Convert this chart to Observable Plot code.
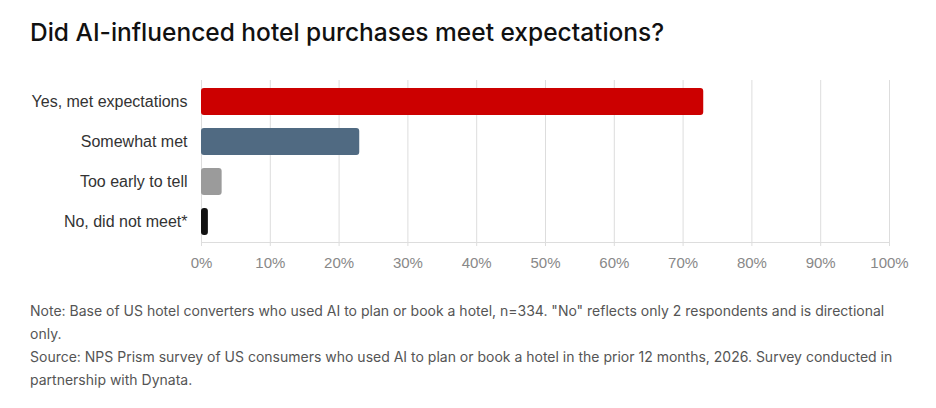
<!DOCTYPE html>
<html>
<head>
<meta charset="utf-8">
<script src="https://cdn.jsdelivr.net/npm/d3@7"></script>
<script src="https://cdn.jsdelivr.net/npm/@observablehq/plot@0.6"></script>
<style>
  html, body { margin: 0; padding: 0; background: #fff; }
  body { width: 936px; height: 408px; overflow: hidden; position: relative; }
  #title { position: absolute; left: 30px; top: 17px; font-family: Inter, "Noto Sans", sans-serif; font-weight: 500; font-size: 24.5px; line-height: 30px; color: #111; white-space: nowrap; }
  #chart { position: absolute; left: 0; top: 66px; }
  #notes { position: absolute; left: 30px; top: 299px; width: 866px; font-family: Inter, "Noto Sans", sans-serif; font-size: 14px; line-height: 23px; color: #555; }
  #notes p { margin: 0; }
</style>
</head>
<body>
<div id="title"></div>
<div id="chart"></div>
<div id="notes"></div>
<script>
const categories = ["Yes, met expectations", "Somewhat met", "Too early to tell", "No, did not meet*"];
const values = [73, 23, 3, 1];
const colors = ["#cc0000", "#506a82", "#9b9b9b", "#111111"];
const xTicks = [0, 10, 20, 30, 40, 50, 60, 70, 80, 90, 100];
const titleText = "Did AI-influenced hotel purchases meet expectations?";
const noteLines = [
  "Note: Base of US hotel converters who used AI to plan or book a hotel, n=334. \"No\" reflects only 2 respondents and is directional only.",
  "Source: NPS Prism survey of US consumers who used AI to plan or book a hotel in the prior 12 months, 2026. Survey conducted in partnership with Dynata."
];

document.getElementById("title").textContent = titleText;
const notes = document.getElementById("notes");
noteLines.forEach(t => { const p = document.createElement("p"); p.textContent = t; notes.appendChild(p); });

const data = categories.map((c, i) => ({category: c, value: values[i], color: colors[i]}));

const chart = Plot.plot({
  width: 936,
  height: 216,
  marginLeft: 201,
  marginRight: 47,
  marginTop: 14,
  marginBottom: 40,
  style: {fontFamily: "'Liberation Sans', Arial, sans-serif", fontSize: "15px", background: "#fff"},
  x: {domain: [0, 100], ticks: xTicks, tickFormat: d => d + "%"},
  y: {domain: categories, paddingInner: 0.325, paddingOuter: 0.1875, label: null},
  marks: [
    Plot.gridX(xTicks, {stroke: "#dddddd", strokeOpacity: 1}),
    Plot.frame({anchor: "bottom", stroke: "#dddddd"}),
    Plot.axisX({ticks: xTicks, tickFormat: d => d + "%", tickSize: 4, tickPadding: 11, stroke: "#dddddd", strokeOpacity: 1, fill: "#888", label: null, fontSize: 15}),
    Plot.axisY({tickSize: 0, tickPadding: 14, fill: "#333", label: null, fontSize: 16}),
    Plot.barX(data, {x: "value", y: "category", fill: "color", rx: 3})
  ]
});
document.getElementById("chart").appendChild(chart);
</script>
</body>
</html>
